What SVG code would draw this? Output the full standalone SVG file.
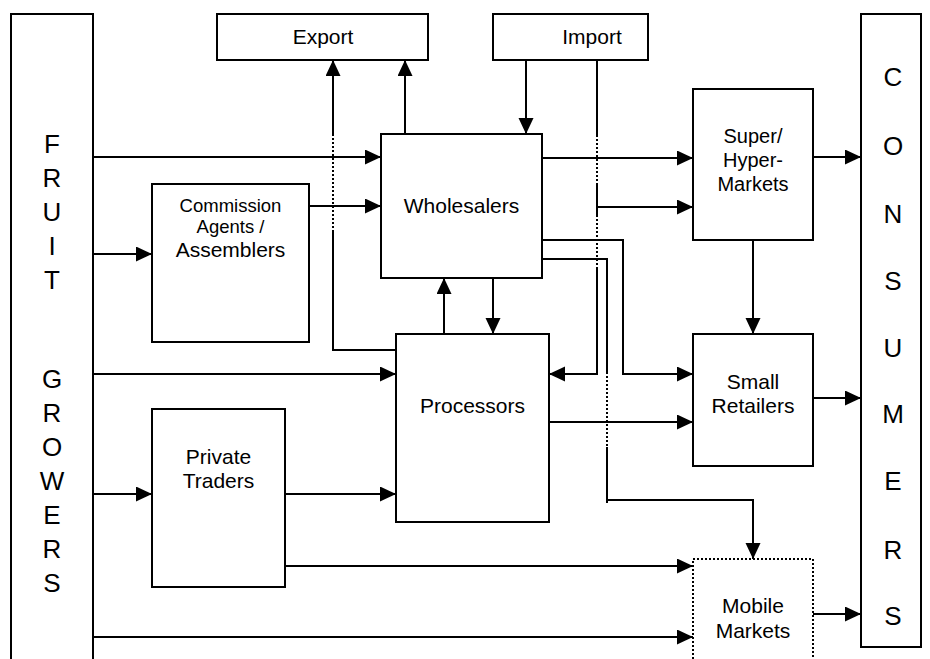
<svg xmlns="http://www.w3.org/2000/svg" width="930" height="659" viewBox="0 0 930 659">
<style>
.box{fill:#fff;stroke:#000;stroke-width:2}
.dbox{fill:#fff;stroke:#000;stroke-width:2;stroke-dasharray:2,2}
.ln{fill:none;stroke:#000;stroke-width:2}
.dot{fill:none;stroke:#000;stroke-width:2;stroke-dasharray:2,2}
text{font-family:"Liberation Sans",Arial,sans-serif;font-size:21px;fill:#000;text-anchor:middle}
.big{font-size:26px}
.sm{font-size:18.5px}
.md{font-size:20px}
</style>
<defs>
<marker id="ah" markerUnits="userSpaceOnUse" markerWidth="17" markerHeight="16" refX="16" refY="7.5" orient="auto">
<path d="M0,0 L16,7.5 L0,15 z" fill="#000"/>
</marker>
</defs>
<rect width="930" height="659" fill="#fff"/>
<g id="growers"><rect class="box" x="11" y="14" width="82" height="660"/>
<text class="big" x="52" y="153">F</text><text class="big" x="52" y="187">R</text><text class="big" x="52" y="221">U</text><text class="big" x="52" y="255">I</text><text class="big" x="52" y="289">T</text>
<text class="big" x="52" y="388">G</text><text class="big" x="52" y="422">R</text><text class="big" x="52" y="456">O</text><text class="big" x="52" y="490">W</text><text class="big" x="52" y="524">E</text><text class="big" x="52" y="558">R</text><text class="big" x="52" y="592">S</text></g>
<g id="consumers"><rect class="box" x="861" y="14" width="60" height="633"/>
<text class="big" x="893" y="86">C</text><text class="big" x="893" y="155">O</text><text class="big" x="893" y="223">N</text><text class="big" x="893" y="290">S</text><text class="big" x="893" y="357">U</text><text class="big" x="893" y="423">M</text><text class="big" x="893" y="490">E</text><text class="big" x="893" y="559">R</text><text class="big" x="893" y="625">S</text></g>
<g id="export"><rect class="box" x="217" y="14" width="211" height="46"/><text x="323" y="44">Export</text></g>
<g id="import"><rect class="box" x="493" y="14" width="155" height="46"/><text x="592" y="44">Import</text></g>
<g id="wholesalers"><rect class="box" x="381" y="134" width="161" height="144"/><text x="461.5" y="213">Wholesalers</text></g>
<g id="commission"><rect class="box" x="152" y="184" width="157" height="158"/><text class="sm" x="230.5" y="212">Commission</text><text class="sm" x="230.5" y="233">Agents /</text><text x="230.5" y="257">Assemblers</text></g>
<g id="processors"><rect class="box" x="396" y="334" width="153" height="188"/><text x="472.5" y="413">Processors</text></g>
<g id="private"><rect class="box" x="152" y="409" width="133" height="178"/><text x="218.5" y="464">Private</text><text x="218.5" y="488">Traders</text></g>
<g id="super"><rect class="box" x="693" y="89" width="120" height="151"/><text class="md" x="753" y="143">Super/</text><text class="md" x="753" y="167">Hyper-</text><text class="md" x="753" y="191">Markets</text></g>
<g id="small"><rect class="box" x="693" y="334" width="120" height="132"/><text x="753" y="389">Small</text><text x="753" y="413">Retailers</text></g>
<g id="mobile"><rect class="dbox" x="693" y="559" width="120" height="120"/><text x="753" y="613">Mobile</text><text x="753" y="638">Markets</text></g>
<g id="connectors">
<path class="ln" d="M93,157 H381" marker-end="url(#ah)"/>
<path class="ln" d="M93,254 H152" marker-end="url(#ah)"/>
<path class="ln" d="M309,206 H381" marker-end="url(#ah)"/>
<path class="ln" d="M93,374 H396" marker-end="url(#ah)"/>
<path class="ln" d="M93,494 H152" marker-end="url(#ah)"/>
<path class="ln" d="M285,494 H396" marker-end="url(#ah)"/>
<path class="ln" d="M285,566 H693" marker-end="url(#ah)"/>
<path class="ln" d="M93,637 H693" marker-end="url(#ah)"/>
<path class="ln" d="M396,350 H333 V232"/>
<path class="dot" d="M333,232 V135"/>
<path class="ln" d="M333,135 V60" marker-end="url(#ah)"/>
<path class="ln" d="M405,134 V60" marker-end="url(#ah)"/>
<path class="ln" d="M526,60 V134" marker-end="url(#ah)"/>
<path class="ln" d="M597,60 V135"/>
<path class="dot" d="M597,135 V185"/>
<path class="ln" d="M597,185 V215"/>
<path class="dot" d="M597,215 V267"/>
<path class="ln" d="M597,267 V374 H549" marker-end="url(#ah)"/>
<path class="ln" d="M597,207 H693" marker-end="url(#ah)"/>
<path class="ln" d="M542,158 H693" marker-end="url(#ah)"/>
<path class="ln" d="M542,240 H623 V374 H693" marker-end="url(#ah)"/>
<path class="ln" d="M542,259 H607 V372"/>
<path class="dot" d="M607,372 V447"/>
<path class="ln" d="M607,447 V503 M607,500 H753 V559" marker-end="url(#ah)"/>
<path class="ln" d="M549,422 H693" marker-end="url(#ah)"/>
<path class="ln" d="M813,157 H861" marker-end="url(#ah)"/>
<path class="ln" d="M753,240 V334" marker-end="url(#ah)"/>
<path class="ln" d="M813,398 H861" marker-end="url(#ah)"/>
<path class="ln" d="M813,614 H861" marker-end="url(#ah)"/>
<path class="ln" d="M444,334 V278" marker-end="url(#ah)"/>
<path class="ln" d="M493,278 V334" marker-end="url(#ah)"/>
</g>
</svg>
